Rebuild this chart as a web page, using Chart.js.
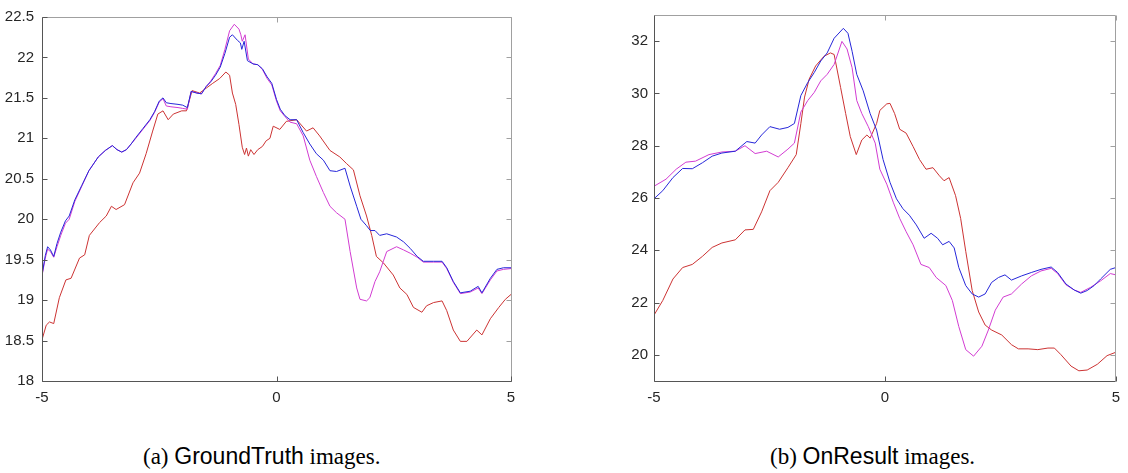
<!DOCTYPE html>
<html>
<head>
<meta charset="utf-8">
<script src="https://cdn.jsdelivr.net/npm/chart.js@4/dist/chart.umd.min.js"></script>
<style>
  html, body { margin: 0; padding: 0; background: #fff; }
  body { width: 1128px; height: 473px; position: relative; overflow: hidden; }
  canvas { position: absolute; top: 0; }
  #gt { left: 0; }
  #on { left: 600px; }
  .cap { position: absolute; top: 445px; font-size: 23px; line-height: 23px; color: #000; white-space: nowrap;
         font-family: 'Liberation Serif', 'Times New Roman', serif; }
  .cap .sf { font-family: 'Liberation Sans', Arial, sans-serif; }
</style>
</head>
<body>
<canvas id="gt" width="540" height="420"></canvas>
<canvas id="on" width="528" height="420"></canvas>
<div class="cap" style="left:143px">(a) <span class="sf">GroundTruth</span> images.</div>
<div class="cap" style="left:770px">(b) <span class="sf">OnResult</span> images.</div>
<script>
// ---- data: [x, value] ----
const xTicks = [-5, 0, 5];
const gtTicks = [18, 18.5, 19, 19.5, 20, 20.5, 21, 21.5, 22, 22.5];
const onTicks = [20, 22, 24, 26, 28, 30, 32];

// (a) GroundTruth
const gtBlue = [[-5,19.31],[-4.93,19.55],[-4.88,19.66],[-4.82,19.62],[-4.75,19.54],[-4.68,19.7],[-4.6,19.84],[-4.5,19.98],
  [-4.42,20.04],[-4.3,20.24],[-4.15,20.42],[-4,20.6],[-3.8,20.77],[-3.65,20.85],[-3.5,20.91],[-3.4,20.86],[-3.3,20.83],
  [-3.2,20.86],[-3.1,20.93],[-3,21.01],[-2.85,21.12],[-2.7,21.23],[-2.6,21.33],[-2.5,21.46],[-2.42,21.5],[-2.35,21.44],
  [-2.25,21.43],[-2.1,21.42],[-2,21.41],[-1.9,21.38],[-1.82,21.58],[-1.7,21.56],[-1.6,21.55],[-1.5,21.64],[-1.4,21.7],
  [-1.3,21.78],[-1.2,21.88],[-1.1,22.05],[-1,22.25],[-0.94,22.28],[-0.83,22.21],[-0.77,22.18],[-0.74,22.1],[-0.69,22.2],
  [-0.62,21.96],[-0.5,21.92],[-0.4,21.91],[-0.3,21.86],[-0.2,21.76],[-0.1,21.68],[0,21.48],[0.08,21.36],[0.18,21.28],
  [0.29,21.23],[0.43,21.23],[0.57,21.07],[0.71,20.93],[0.85,20.81],[1,20.73],[1.14,20.6],[1.28,20.59],[1.46,20.63],
  [1.57,20.41],[1.71,20.16],[1.8,20],[1.92,19.92],[2,19.86],[2.1,19.86],[2.2,19.8],[2.35,19.82],[2.56,19.78],[2.71,19.72],
  [2.85,19.64],[3,19.54],[3.13,19.48],[3.35,19.48],[3.53,19.48],[3.63,19.4],[3.77,19.23],[3.92,19.09],[4.13,19.11],
  [4.3,19.17],[4.38,19.09],[4.56,19.27],[4.7,19.38],[4.84,19.4],[5,19.4]];
const gtMagenta = [[-5,19.3],[-4.93,19.52],[-4.88,19.63],[-4.82,19.6],[-4.75,19.53],[-4.68,19.66],[-4.6,19.8],[-4.5,19.95],
  [-4.42,20],[-4.3,20.22],[-4.15,20.41],[-4,20.6],[-3.8,20.77],[-3.65,20.85],[-3.5,20.91],[-3.4,20.86],[-3.3,20.83],
  [-3.2,20.86],[-3.1,20.93],[-3,21],[-2.85,21.11],[-2.7,21.22],[-2.6,21.32],[-2.5,21.45],[-2.42,21.49],[-2.35,21.4],
  [-2.25,21.39],[-2.1,21.38],[-2,21.37],[-1.9,21.36],[-1.82,21.58],[-1.7,21.56],[-1.6,21.55],[-1.5,21.64],[-1.4,21.71],
  [-1.3,21.8],[-1.2,21.9],[-1.1,22.1],[-1,22.33],[-0.9,22.41],[-0.8,22.35],[-0.76,22.28],[-0.73,22.2],[-0.67,22.28],
  [-0.6,21.98],[-0.5,21.92],[-0.4,21.91],[-0.3,21.85],[-0.2,21.74],[-0.1,21.66],[0,21.46],[0.08,21.34],[0.18,21.27],
  [0.29,21.2],[0.43,21.18],[0.57,21.03],[0.71,20.73],[0.85,20.53],[1,20.33],[1.14,20.16],[1.28,20.08],[1.46,20],
  [1.57,19.6],[1.71,19.15],[1.78,19.01],[1.92,18.99],[1.99,19.03],[2.1,19.23],[2.2,19.35],[2.35,19.6],[2.56,19.66],
  [2.71,19.62],[2.85,19.58],[3,19.53],[3.13,19.47],[3.35,19.47],[3.53,19.47],[3.63,19.39],[3.77,19.22],[3.92,19.08],
  [4.13,19.1],[4.3,19.15],[4.38,19.08],[4.56,19.25],[4.7,19.36],[4.84,19.38],[5,19.39]];
const gtRed = [[-5,18.51],[-4.91,18.69],[-4.84,18.73],[-4.75,18.71],[-4.63,19.03],[-4.49,19.25],[-4.38,19.27],[-4.2,19.52],
  [-4.09,19.56],[-3.99,19.8],[-3.77,19.96],[-3.63,20.04],[-3.52,20.16],[-3.42,20.12],[-3.24,20.18],[-3.06,20.45],
  [-2.92,20.57],[-2.78,20.81],[-2.64,21.09],[-2.53,21.3],[-2.42,21.34],[-2.31,21.23],[-2.2,21.3],[-2.02,21.34],
  [-1.92,21.34],[-1.8,21.59],[-1.64,21.56],[-1.5,21.62],[-1.36,21.68],[-1.21,21.74],[-1.08,21.82],[-1,21.78],
  [-0.94,21.56],[-0.87,21.42],[-0.8,21.17],[-0.73,20.89],[-0.68,20.8],[-0.64,20.88],[-0.6,20.78],[-0.55,20.86],
  [-0.48,20.8],[-0.4,20.86],[-0.3,20.9],[-0.22,20.97],[-0.14,21],[-0.07,21.15],[0.07,21.11],[0.21,21.21],[0.43,21.23],
  [0.64,21.09],[0.78,21.13],[0.92,21.03],[1.14,20.85],[1.35,20.77],[1.49,20.69],[1.64,20.61],[1.78,20.29],[1.92,20.04],
  [2.03,19.8],[2.13,19.54],[2.28,19.46],[2.49,19.31],[2.63,19.15],[2.78,19.07],[2.92,18.91],[3.1,18.85],[3.2,18.93],
  [3.35,18.97],[3.53,18.99],[3.63,18.87],[3.77,18.63],[3.92,18.49],[4.06,18.49],[4.27,18.63],[4.38,18.57],[4.56,18.77],
  [4.74,18.91],[4.88,19.01],[5,19.07]];

// (b) OnResult
const onBlue = [[-5,25.97],[-4.81,26.28],[-4.59,26.78],[-4.38,27.13],[-4.17,27.12],[-3.95,27.35],[-3.74,27.6],[-3.53,27.72],
  [-3.24,27.79],[-2.99,28.16],[-2.81,28.1],[-2.67,28.41],[-2.49,28.73],[-2.28,28.63],[-2.1,28.7],[-1.96,28.85],[-1.82,29.92],
  [-1.67,30.42],[-1.53,30.8],[-1.39,31.24],[-1.25,31.55],[-1.1,32.11],[-0.9,32.49],[-0.8,32.3],[-0.71,31.61],[-0.61,30.73],
  [-0.47,30.1],[-0.32,29.23],[-0.18,28.6],[-0.04,27.47],[0.11,26.6],[0.25,25.97],[0.39,25.59],[0.53,25.34],[0.68,24.97],
  [0.85,24.46],[1,24.65],[1.14,24.46],[1.25,24.21],[1.39,24.34],[1.5,24.09],[1.6,23.34],[1.75,22.65],[1.89,22.33],
  [2.03,22.21],[2.17,22.33],[2.31,22.77],[2.46,22.96],[2.6,23.06],[2.74,22.86],[2.96,23.02],[3.17,23.15],[3.38,23.27],
  [3.6,23.36],[3.74,23.15],[3.92,22.71],[4.1,22.48],[4.24,22.36],[4.38,22.46],[4.53,22.65],[4.67,22.9],[4.88,23.27],[5,23.34]];
const onMagenta = [[-5,26.45],[-4.74,26.72],[-4.52,27.1],[-4.31,27.37],[-4.1,27.41],[-3.81,27.66],[-3.53,27.76],[-3.24,27.79],
  [-3.03,28],[-2.81,27.7],[-2.56,27.79],[-2.31,27.57],[-2.1,27.87],[-1.96,28.1],[-1.82,29.29],[-1.67,29.73],[-1.53,30.04],
  [-1.39,30.48],[-1.25,30.73],[-1.1,31.11],[-0.93,31.99],[-0.82,31.7],[-0.71,30.98],[-0.61,29.73],[-0.5,29.23],[-0.36,28.73],
  [-0.21,28.1],[-0.11,27.1],[0.04,26.53],[0.18,25.84],[0.32,25.22],[0.46,24.71],[0.61,24.21],[0.78,23.46],[0.96,23.34],
  [1.11,22.96],[1.32,22.65],[1.46,22.08],[1.6,21.08],[1.75,20.2],[1.92,19.95],[2.1,20.33],[2.24,20.95],[2.39,21.71],
  [2.56,22.21],[2.74,22.33],[2.96,22.71],[3.17,23.02],[3.38,23.21],[3.6,23.31],[3.74,23.11],[3.92,22.68],[4.1,22.48],
  [4.24,22.39],[4.45,22.58],[4.67,22.83],[4.88,23.11],[5,23.06]];
const onRed = [[-5,21.52],[-4.81,22.08],[-4.59,22.9],[-4.38,23.34],[-4.17,23.46],[-3.95,23.77],[-3.74,24.11],[-3.53,24.28],
  [-3.24,24.4],[-3.03,24.78],[-2.85,24.8],[-2.67,25.47],[-2.49,26.28],[-2.31,26.6],[-2.1,27.16],[-1.92,27.66],[-1.82,28.85],
  [-1.74,29.86],[-1.64,30.55],[-1.5,31.05],[-1.32,31.42],[-1.18,31.55],[-1.1,31.49],[-0.96,30.23],[-0.85,29.23],[-0.75,28.35],
  [-0.62,27.66],[-0.5,28.22],[-0.39,28.41],[-0.32,28.29],[-0.18,28.85],[-0.11,29.35],[0.04,29.6],[0.11,29.62],[0.21,29.23],
  [0.32,28.63],[0.46,28.48],[0.61,27.97],[0.75,27.47],[0.89,27.1],[1.04,27.16],[1.18,26.85],[1.28,26.66],[1.39,26.78],
  [1.53,26.09],[1.64,25.22],[1.75,23.96],[1.89,22.46],[2.03,21.64],[2.17,21.14],[2.31,20.95],[2.53,20.76],[2.74,20.39],
  [2.89,20.23],[3.1,20.23],[3.31,20.2],[3.53,20.26],[3.67,20.26],[3.81,20.01],[4.03,19.57],[4.2,19.39],[4.38,19.42],
  [4.6,19.64],[4.81,19.97],[5,20.1]];

Chart.defaults.font.family = "'Liberation Sans', Arial, sans-serif";
Chart.defaults.font.size = 15;
Chart.defaults.color = '#262626';

// box round the plot with short inward ticks on all four sides
const boxTicks = {
  id: 'boxTicks',
  afterDatasetsDraw(chart) {
    const { ctx, chartArea: a, scales: { x, y } } = chart;
    const L = Math.floor(a.left) + 0.5, R = Math.floor(a.right) + 0.5;
    const T = Math.floor(a.top) + 0.5, B = Math.floor(a.bottom) + 0.5;
    const len = 5;
    ctx.save();
    ctx.lineWidth = 1;
    ctx.strokeStyle = '#a0a0a0';
    ctx.beginPath();
    ctx.moveTo(L, T); ctx.lineTo(R, T); ctx.lineTo(R, B);
    y.ticks.forEach(t => { const p = Math.round(y.getPixelForValue(t.value)) + 0.5; ctx.moveTo(R, p); ctx.lineTo(R - len, p); });
    x.ticks.forEach(t => { const p = Math.round(x.getPixelForValue(t.value)) + 0.5; ctx.moveTo(p, T); ctx.lineTo(p, T + len); });
    ctx.stroke();
    ctx.strokeStyle = '#555';
    ctx.beginPath();
    ctx.moveTo(L, T); ctx.lineTo(L, B); ctx.lineTo(R, B);
    y.ticks.forEach(t => { const p = Math.round(y.getPixelForValue(t.value)) + 0.5; ctx.moveTo(L, p); ctx.lineTo(L + len, p); });
    x.ticks.forEach(t => { const p = Math.round(x.getPixelForValue(t.value)) + 0.5; ctx.moveTo(p, B); ctx.lineTo(p, B - len); });
    ctx.stroke();
    ctx.restore();
  }
};

function pts(arr) { return arr.map(([x, v]) => ({ x, y: v })); }

function makeChart(id, series, yMin, yMax, yTicks, yAxisWidth, padRight, labelPad) {
  return new Chart(document.getElementById(id), {
    type: 'line',
    data: {
      datasets: [
        { data: pts(series[0]), borderColor: '#2626d9' },
        { data: pts(series[1]), borderColor: '#d23cd2' },
        { data: pts(series[2]), borderColor: '#cc3333' }
      ]
    },
    options: {
      responsive: false,
      animation: false,
      events: [],
      elements: { point: { radius: 0 }, line: { borderWidth: 1, tension: 0 } },
      layout: { padding: { top: 10, right: padRight, bottom: 0, left: 0 } },
      plugins: { legend: { display: false }, tooltip: { enabled: false } },
      scales: {
        x: {
          type: 'linear', min: -5, max: 5,
          grid: { display: false, drawTicks: false }, border: { display: false },
          ticks: { padding: 8, maxRotation: 0 },
          afterBuildTicks: s => { s.ticks = xTicks.map(v => ({ value: v })); },
          afterFit: s => { s.height = 39; }
        },
        y: {
          min: yMin, max: yMax,
          grid: { display: false, drawTicks: false }, border: { display: false },
          ticks: { padding: labelPad, callback: v => String(v) },
          afterBuildTicks: s => { s.ticks = yTicks.map(v => ({ value: v })); },
          afterFit: s => { s.width = yAxisWidth; }
        }
      }
    },
    plugins: [boxTicks]
  });
}

makeChart('gt', [gtBlue, gtMagenta, gtRed], 18, 22.5, gtTicks, 42, 29, 8);
makeChart('on', [onBlue, onMagenta, onRed], 19, 33, onTicks, 54, 5, 6);
</script>
</body>
</html>
